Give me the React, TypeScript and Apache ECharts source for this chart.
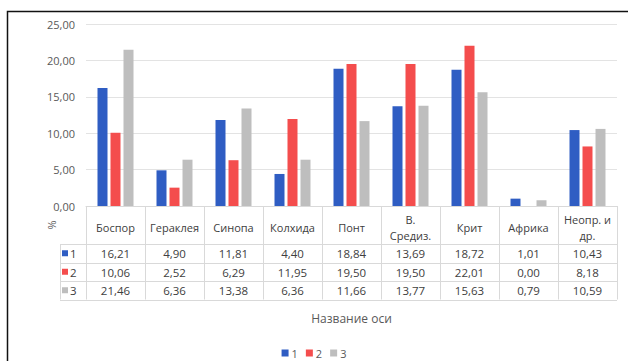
import React, { useEffect, useRef } from "react";
import * as echarts from "echarts";

const categories = ["Боспор", "Гераклея", "Синопа", "Колхида", "Понт", "В.\nСредиз.", "Крит", "Африка", "Неопр. и\nдр."];
const seriesNames = ["1", "2", "3"];
const series1 = [16.21, 4.9, 11.81, 4.4, 18.84, 13.69, 18.72, 1.01, 10.43];
const series2 = [10.06, 2.52, 6.29, 11.95, 19.5, 19.5, 22.01, 0.0, 8.18];
const series3 = [21.46, 6.36, 13.38, 6.36, 11.66, 13.77, 15.63, 0.79, 10.59];
const seriesData = [series1, series2, series3];
const colors = ["#2F5DC3", "#F44D4D", "#BEBEBE"];
const yAxisTitle = "%";
const xAxisTitle = "Название оси";

const FONT = "'Open Sans', 'Noto Sans', sans-serif";
const fmt = (v: number) => v.toFixed(2).replace(".", ",");

export default function App() {
  const ref = useRef<HTMLDivElement>(null);
  useEffect(() => {
    if (!ref.current) return;
    const chart = echarts.init(ref.current, null, { renderer: "svg" });
    chart.setOption({
      animation: false,
      backgroundColor: "#fff",
      grid: { left: 86, right: 11, top: 24, bottom: 155 },
      legend: {
        top: 347,
        left: "center",
        padding: 0,
        itemWidth: 7,
        itemHeight: 7,
        itemGap: 8,
        icon: "rect",
        textStyle: { color: "#595959", fontSize: 11, lineHeight: 12, fontFamily: FONT, padding: [0, 0, 0, -2] },
        data: seriesNames,
      },
      xAxis: {
        type: "category",
        data: categories,
        axisLine: { lineStyle: { color: "#D9D9D9" } },
        axisTick: { show: false },
        axisLabel: { show: false },
      },
      yAxis: {
        type: "value",
        min: 0,
        max: 25,
        interval: 5,
        axisLabel: { formatter: (v: number) => fmt(v), color: "#595959", fontSize: 11, fontFamily: FONT, margin: 11 },
        splitLine: { lineStyle: { color: "#E3E3E3" } },
        axisLine: { show: false },
        axisTick: { show: false },
      },
      series: seriesNames.map((n, i) => ({
        name: n,
        type: "bar",
        data: seriesData[i],
        barWidth: 10,
        barGap: "30%",
        itemStyle: { color: colors[i] },
      })),
    });

    const c0 = chart.convertToPixel({ xAxisIndex: 0 }, 0) as number;
    const c1 = chart.convertToPixel({ xAxisIndex: 0 }, 1) as number;
    const bw = c1 - c0;
    const y0 = chart.convertToPixel({ yAxisIndex: 0 }, 0) as number;
    const left = c0 - bw / 2;
    const right = left + bw * categories.length;
    const headerBottom = y0 + 38;
    const rowH = 18.5;
    const labelLeft = 60;
    const lineColor = "#D9D9D9";
    const textColor = "#404040";
    const els: any[] = [];

    // outer frame
    els.push({
      type: "rect",
      shape: { x: 7.5, y: 11.5, width: 700, height: 500 },
      style: { fill: "none", stroke: "#111", lineWidth: 1.5 },
      silent: true,
    });
    // vertical lines
    for (let i = 0; i <= categories.length; i++) {
      const x = Math.round(left + i * bw) + 0.5;
      els.push({ type: "line", shape: { x1: x, y1: y0, x2: x, y2: headerBottom + 3 * rowH }, style: { stroke: lineColor, lineWidth: 1 } });
    }
    els.push({ type: "line", shape: { x1: labelLeft + 0.5, y1: headerBottom, x2: labelLeft + 0.5, y2: headerBottom + 3 * rowH }, style: { stroke: lineColor, lineWidth: 1 } });
    // horizontal lines
    for (let r = 0; r <= 3; r++) {
      const y = Math.round(headerBottom + r * rowH) + 0.5;
      els.push({ type: "line", shape: { x1: labelLeft, y1: y, x2: right, y2: y }, style: { stroke: lineColor, lineWidth: 1 } });
    }
    // header + cells
    categories.forEach((cat, i) => {
      const cx = chart.convertToPixel({ xAxisIndex: 0 }, i) as number;
      els.push({
        type: "text",
        x: cx,
        y: (y0 + headerBottom) / 2 + 2,
        style: { text: cat, fill: textColor, fontSize: 11, fontFamily: FONT, align: "center", verticalAlign: "middle", lineHeight: 16 },
      });
      seriesData.forEach((arr, r) => {
        els.push({
          type: "text",
          x: cx,
          y: headerBottom + r * rowH + rowH / 2 + 0.5,
          style: { text: fmt(arr[i]), fill: textColor, fontSize: 11.5, fontFamily: FONT, align: "center", verticalAlign: "middle" },
        });
      });
    });
    // row labels
    seriesNames.forEach((n, r) => {
      const cy = headerBottom + r * rowH + rowH / 2;
      els.push({ type: "rect", shape: { x: 62, y: cy - 3, width: 6, height: 6 }, style: { fill: colors[r] } });
      els.push({ type: "text", x: 70, y: cy + 0.5, style: { text: n, fill: textColor, fontSize: 11.5, fontFamily: FONT, align: "left", verticalAlign: "middle" } });
    });
    // axis titles
    els.push({
      type: "text",
      x: 51,
      y: (y0 + headerBottom) / 2,
      rotation: Math.PI / 2,
      style: { text: yAxisTitle, fill: "#595959", fontSize: 11, fontFamily: FONT, align: "center", verticalAlign: "middle" },
    });
    els.push({
      type: "text",
      x: (left + right) / 2,
      y: headerBottom + 3 * rowH + 19,
      style: { text: xAxisTitle, fill: "#595959", fontSize: 12, fontFamily: FONT, align: "center", verticalAlign: "middle" },
    });
    chart.setOption({ graphic: { elements: els } });

    return () => chart.dispose();
  }, []);
  return <div ref={ref} style={{ position: "fixed", left: 0, top: 0, width: 628, height: 361 }} />;
}
